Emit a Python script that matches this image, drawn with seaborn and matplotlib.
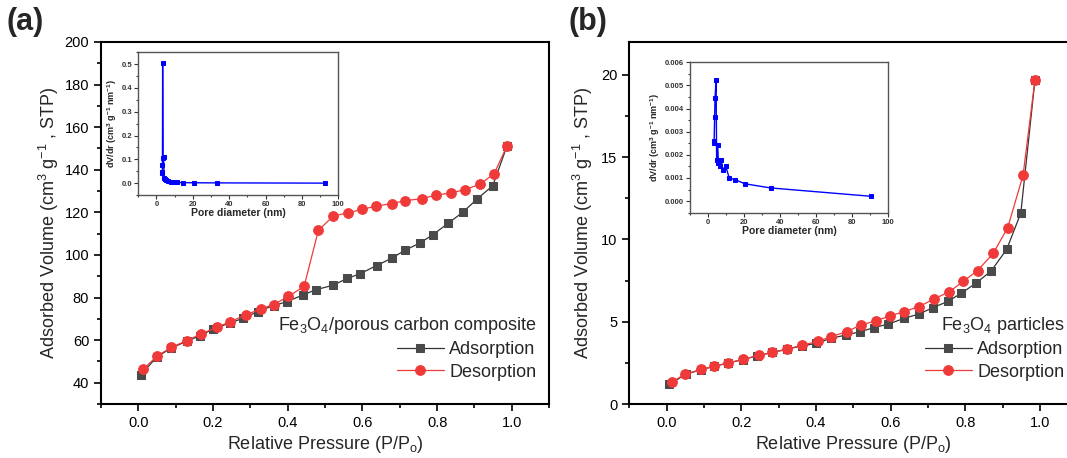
import numpy as np
import pandas as pd
import matplotlib
matplotlib.use("Agg")
import matplotlib.pyplot as plt
import seaborn as sns
from matplotlib.ticker import MultipleLocator

# ---------------- data ----------------
a_ads_p = [0.006, 0.049, 0.088, 0.130, 0.166, 0.201, 0.245, 0.281, 0.320, 0.362, 0.397, 0.442, 0.476,
           0.520, 0.560, 0.594, 0.638, 0.679, 0.714, 0.753, 0.788, 0.830, 0.870, 0.908, 0.949, 0.987]
a_ads_v = [43.6, 52.0, 56.3, 59.5, 62.1, 65.3, 68.0, 70.3, 73.4, 76.2, 78.0, 81.3, 83.7,
           85.7, 89.0, 91.2, 95.0, 98.5, 102.2, 105.5, 109.4, 114.9, 120.2, 126.4, 132.5, 151.0]
a_des_p = [0.013, 0.049, 0.088, 0.130, 0.168, 0.210, 0.246, 0.288, 0.328, 0.362, 0.402, 0.444, 0.482,
           0.522, 0.562, 0.600, 0.637, 0.680, 0.714, 0.759, 0.797, 0.837, 0.875, 0.915, 0.953, 0.987]
a_des_v = [46.3, 52.4, 56.6, 59.8, 62.9, 66.0, 68.7, 71.8, 74.7, 76.7, 80.5, 85.3, 111.5,
           118.3, 119.8, 121.4, 123.0, 124.1, 125.5, 126.4, 128.1, 129.1, 130.7, 133.2, 138.2, 151.1]

b_ads_p = [0.007, 0.051, 0.092, 0.128, 0.165, 0.204, 0.241, 0.281, 0.322, 0.362, 0.400, 0.440, 0.480,
           0.518, 0.555, 0.594, 0.637, 0.676, 0.714, 0.753, 0.790, 0.829, 0.869, 0.911, 0.949, 0.987]
b_ads_v = [1.19, 1.80, 2.09, 2.29, 2.49, 2.70, 2.92, 3.13, 3.33, 3.53, 3.68, 3.99, 4.19,
           4.39, 4.64, 4.86, 5.21, 5.47, 5.86, 6.23, 6.74, 7.35, 8.07, 9.39, 11.6, 19.7]
b_des_p = [0.013, 0.050, 0.092, 0.128, 0.165, 0.205, 0.248, 0.283, 0.323, 0.363, 0.405, 0.440, 0.482,
           0.520, 0.560, 0.598, 0.637, 0.676, 0.717, 0.757, 0.795, 0.833, 0.875, 0.914, 0.955, 0.987]
b_des_v = [1.33, 1.82, 2.10, 2.30, 2.50, 2.72, 2.96, 3.13, 3.33, 3.58, 3.80, 4.09, 4.39,
           4.80, 5.05, 5.35, 5.62, 5.92, 6.39, 6.82, 7.45, 8.11, 9.15, 10.72, 13.9, 19.7]

ia_d = [3.0, 3.2, 3.3, 3.4, 3.6, 3.9, 4.2, 4.6, 5.3, 6.5, 8.0, 9.8, 11.5, 14.5, 20.4, 33.3, 92.6]
ia_v = [0.045, 0.043, 0.075, 0.507, 0.105, 0.108, 0.020, 0.018, 0.013, 0.008, 0.006, 0.005,
        0.003, 0.002, 0.0015, 0.001, 0.0]

ib_d = [3.1, 3.4, 3.7, 3.9, 4.5, 4.8, 5.4, 5.8, 6.6, 7.3, 8.2, 9.8, 11.8, 15.0, 20.5, 34.8, 90.5]
ib_v = [0.00252, 0.00258, 0.00365, 0.00445, 0.00522, 0.00178, 0.00242, 0.00163, 0.00150, 0.00178,
        0.00135, 0.00153, 0.00100, 0.00093, 0.00075, 0.00057, 0.00021]

labels_a = "Fe$_3$O$_4$/porous carbon composite"
labels_b = "Fe$_3$O$_4$ particles"

# ---------------- style ----------------
sns.set_theme(style="ticks")
plt.rcParams["font.family"] = ["Liberation Sans", "DejaVu Sans"]
plt.rcParams["mathtext.fontset"] = "custom"
plt.rcParams["mathtext.rm"] = "Liberation Sans"
plt.rcParams["mathtext.it"] = "Liberation Sans:italic"
plt.rcParams["mathtext.bf"] = "Liberation Sans:bold"

GRAY = "#4a4a4a"
RED = "#f03a3a"
BLUE = "#0000ff"

fig = plt.figure(figsize=(10.67, 4.58), dpi=100)
axA = fig.add_axes([0.0947, 0.1179, 0.4199, 0.7904])
axB = fig.add_axes([0.5899, 0.1179, 0.4196, 0.7904])


def main_panel(ax, ap, av, dp, dv, ylim, ymaj, ymin, title):
    sns.lineplot(x=ap, y=av, ax=ax, color="#333333", lw=0.9, marker="s", markersize=6,
                 markerfacecolor=GRAY, markeredgecolor=GRAY, label="Adsorption",
                 estimator=None, sort=False)
    sns.lineplot(x=dp, y=dv, ax=ax, color=RED, lw=0.9, marker="o", markersize=7,
                 markerfacecolor=RED, markeredgecolor=RED, label="Desorption",
                 estimator=None, sort=False)
    ax.set_xlim(-0.1, 1.1)
    ax.set_ylim(*ylim)
    ax.xaxis.set_major_locator(MultipleLocator(0.2))
    ax.xaxis.set_minor_locator(MultipleLocator(0.1))
    ax.yaxis.set_major_locator(MultipleLocator(ymaj))
    ax.yaxis.set_minor_locator(MultipleLocator(ymin))
    ax.xaxis.set_major_formatter(matplotlib.ticker.FormatStrFormatter("%.1f"))
    ax.tick_params(which="both", direction="out", top=False, right=False, colors="black",
                   labelsize=10.5, width=1.2)
    ax.tick_params(which="major", length=5)
    ax.tick_params(which="minor", length=3)
    for s in ax.spines.values():
        s.set_visible(True)
        s.set_linewidth(1.5)
        s.set_color("black")
    ax.set_xlabel("Relative Pressure (P/P$_{\\rm o}$)", fontsize=13, labelpad=3)
    ax.set_ylabel("Adsorbed Volume (cm$^3$ g$^{-1}$ , STP)", fontsize=13)
    ax.legend(loc="lower right", frameon=False, fontsize=13, title=title,
              title_fontsize=13, alignment="right", handlelength=2.6,
              handletextpad=0.3, borderaxespad=0.3, labelspacing=0.3,
              bbox_to_anchor=(1.0, 0.03))


main_panel(axA, a_ads_p, a_ads_v, a_des_p, a_des_v, (30, 200), 20, 10, labels_a)
main_panel(axB, b_ads_p, b_ads_v, b_des_p, b_des_v, (0, 22), 5, 2.5, labels_b)
axA.yaxis.set_label_coords(-0.09, 0.5)
axB.yaxis.set_label_coords(-0.076, 0.5)

fig.text(0.006, 0.985, "(a)", fontsize=22, fontweight="bold", va="top", ha="left")
fig.text(0.533, 0.985, "(b)", fontsize=22, fontweight="bold", va="top", ha="left")


def inset(rect, d, v, ylim, ymaj, fmt):
    ax = fig.add_axes(rect)
    sns.lineplot(x=d, y=v, ax=ax, color=BLUE, lw=1.0, marker="s", markersize=3.5,
                 markerfacecolor=BLUE, markeredgecolor=BLUE, estimator=None, sort=False)
    ax.set_xlim(-10, 100)
    ax.set_ylim(*ylim)
    ax.xaxis.set_major_locator(MultipleLocator(20))
    ax.xaxis.set_minor_locator(MultipleLocator(10))
    ax.yaxis.set_major_locator(MultipleLocator(ymaj))
    ax.yaxis.set_minor_locator(MultipleLocator(ymaj / 2))
    ax.yaxis.set_major_formatter(matplotlib.ticker.FormatStrFormatter(fmt))
    ax.tick_params(which="both", direction="out", top=False, right=False, labelsize=5.5,
                   width=0.8, colors="#333333", pad=1.5)
    ax.tick_params(which="major", length=3)
    ax.tick_params(which="minor", length=1.5)
    for lab in ax.get_xticklabels() + ax.get_yticklabels():
        lab.set_fontweight("bold")
    for s in ax.spines.values():
        s.set_visible(True)
        s.set_linewidth(1.0)
        s.set_color("#555555")
    ax.set_xlabel("Pore diameter (nm)", fontsize=7.5, fontweight="bold", labelpad=0)
    ax.set_ylabel("dV/dr (cm$^\\mathbf{3}$ g$^\\mathbf{-1}$ nm$^\\mathbf{-1}$)", fontsize=6.5,
                  fontweight="bold", labelpad=2)
    return ax


inset([0.1296, 0.5742, 0.1874, 0.3116], ia_d, ia_v, (-0.05, 0.55), 0.1, "%.1f")
inset([0.6467, 0.5356, 0.1853, 0.3284], ib_d, ib_v, (-0.0005, 0.006), 0.001, "%.3f")

fig.savefig("out.png", dpi=100)
